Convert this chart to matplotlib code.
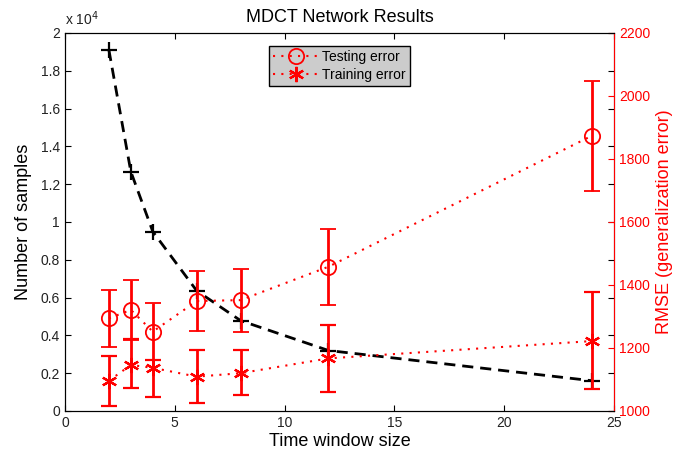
import numpy as np
import matplotlib
matplotlib.use("Agg")
import matplotlib.pyplot as plt
from matplotlib.ticker import FuncFormatter, MultipleLocator

plt.rcParams["font.family"] = ["Liberation Sans", "DejaVu Sans"]

# data
window = [2, 3, 4, 6, 8, 12, 24]
n_samples = [19100, 12660, 9490, 6360, 4780, 3200, 1600]

test_rmse = [1294, 1321, 1252, 1349, 1352, 1458, 1874]
test_err = [91, 95, 91, 96, 100, 120, 175]

train_rmse = [1096, 1146, 1137, 1109, 1120, 1167, 1222]
train_err_lo = [79, 73, 92, 83, 70, 106, 152]
train_err_hi = [77, 82, 25, 85, 74, 106, 155]

RED = "#ff0000"

fig = plt.figure(figsize=(6.89, 4.57), dpi=100)
ax = fig.add_axes([0.0943, 0.1007, 0.7968, 0.8271])

ax.plot(window, n_samples, color="black", lw=2, dashes=(4, 2.5),
        marker="+", ms=11, mew=1.6)
ax.set_xlim(0, 25)
ax.set_ylim(0, 20000)
ax.xaxis.set_major_locator(MultipleLocator(5))
ax.yaxis.set_major_locator(MultipleLocator(2000))
ax.yaxis.set_major_formatter(FuncFormatter(lambda v, p: f"{v / 1e4:g}"))
ax.text(0.0, 1.012, "x 10$^{4}$", transform=ax.transAxes, fontsize=10,
        color="#222222", ha="left", va="bottom")
ax.set_xlabel("Time window size", fontsize=13, labelpad=2)
ax.set_ylabel("Number of samples", fontsize=13, labelpad=6)
ax.set_title("MDCT Network Results", fontsize=13, pad=8)

ax2 = ax.twinx()
ax2.patch.set_visible(False)
asterisk = (6, 2, 0)
ax2.errorbar(window, test_rmse, yerr=test_err, color=RED, ls=":", lw=1.5,
             dashes=(1, 3), marker="o", ms=11, mfc="none", mec=RED, mew=1.3,
             ecolor=RED, elinewidth=2, capsize=5.5, capthick=2,
             label="Testing error")
ax2.errorbar(window, train_rmse, yerr=[train_err_lo, train_err_hi], color=RED,
             ls=":", lw=1.5, dashes=(1, 3), marker=asterisk, ms=11, mec=RED,
             mew=1.6, ecolor=RED, elinewidth=2, capsize=5.5, capthick=2,
             label="Training error")
ax2.set_ylim(1000, 2200)
ax2.yaxis.set_major_locator(MultipleLocator(200))
ax2.tick_params(direction="in", length=4, labelsize=10, colors=RED)
ax2.spines["right"].set_color(RED)
ax2.set_ylabel("RMSE (generalization error)", fontsize=13, color=RED, labelpad=4)

# box-style ticks for the left axis on all sides (MATLAB look)
ax.yaxis.set_ticks_position("both")
ax.tick_params(direction="in", length=4, labelsize=10, top=True, right=True,
               labelright=False, colors="black", labelcolor="#222222")

handles, labels = ax2.get_legend_handles_labels()
handles = [h[0] for h in handles]
leg = ax2.legend(handles, labels, loc="upper center", bbox_to_anchor=(0.5, 0.985),
                 fontsize=10, frameon=True, fancybox=False, framealpha=1,
                 facecolor="#cccccc", edgecolor="black", handlelength=3.2,
                 borderpad=0.3, labelspacing=0.3, handletextpad=0.3)
leg.get_frame().set_linewidth(1)

fig.savefig("out.png", dpi=100)
